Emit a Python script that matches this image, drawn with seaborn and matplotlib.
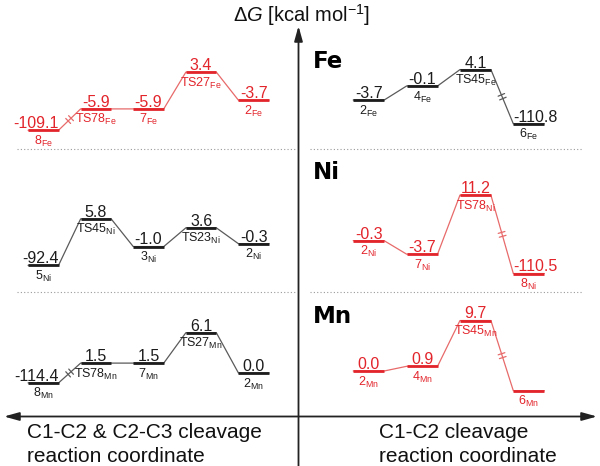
import numpy as np
import pandas as pd
import matplotlib.pyplot as plt
import seaborn as sns

# Free energies (kcal/mol), listed in reaction order.
# Left column: C1-C2 & C2-C3 cleavage, right column: C1-C2 cleavage.
fe_left_names = ['2', 'TS27', '7', 'TS78', '8']
fe_left_dG = [-3.7, 3.4, -5.9, -5.9, -109.1]
ni_left_names = ['2', 'TS23', '3', 'TS45', '5']
ni_left_dG = [-0.3, 3.6, -1.0, 5.8, -92.4]
mn_left_names = ['2', 'TS27', '7', 'TS78', '8']
mn_left_dG = [0.0, 6.1, 1.5, 1.5, -114.4]

fe_right_names = ['2', '4', 'TS45', '6']
fe_right_dG = [-3.7, -0.1, 4.1, -110.8]
ni_right_names = ['2', '7', 'TS78', '8']
ni_right_dG = [-0.3, -3.7, 11.2, -110.5]
mn_right_names = ['2', '4', 'TS45', '6']
mn_right_dG = [0.0, 0.9, 9.7, np.nan]   # no value printed for 6_Mn

RED, RED_LINK = '#e2242b', '#e86a6a'
BLACK, GREY_LINK = '#1c1c1c', '#5a5a5a'

sns.set_theme(style='white')
plt.rcParams['font.family'] = ['Liberation Sans', 'DejaVu Sans']
plt.rcParams['mathtext.fontset'] = 'custom'
plt.rcParams['mathtext.rm'] = 'Liberation Sans'
plt.rcParams['mathtext.it'] = 'Liberation Sans:italic'
plt.rcParams['mathtext.default'] = 'regular'

W, H = 600, 466
fig = plt.figure(figsize=(W / 100, H / 100), dpi=100)


def px_rect(x0, x1, y0, y1):
    return [x0 / W, 1 - y1 / H, (x1 - x0) / W, (y1 - y0) / H]


# overlay in pixel units for the frame arrows, separators and captions
ov = fig.add_axes([0, 0, 1, 1])
ov.set_xlim(0, W)
ov.set_ylim(H, 0)
ov.axis('off')

HALF = 0.29   # half width of an energy level (in step units)
SPAN = 25     # kcal/mol above and below zero held by each panel box


def draw_panel(names, dG, metal, color, link, side, zero_px, scale, brk):
    n = len(names)
    e = np.array(dG, dtype=float)
    broken = np.isnan(e) | (e < -50)
    shown = np.where(broken, brk, e)

    if side == 'left':
        ax = fig.add_axes(px_rect(17, 280, zero_px - SPAN * scale, zero_px + SPAN * scale))
        ax.set_xlim(n - 0.5, -0.5)
    else:
        ax = fig.add_axes(px_rect(342, 555.5, zero_px - SPAN * scale, zero_px + SPAN * scale))
        ax.set_xlim(-0.5, n - 0.5)
    ax.set_ylim(-SPAN, SPAN)
    ax.axis('off')

    idx = np.arange(n)
    path = pd.DataFrame({'x': np.ravel(np.column_stack([idx - HALF, idx + HALF])),
                         'y': np.repeat(shown, 2)})
    sns.lineplot(data=path, x='x', y='y', sort=False, estimator=None,
                 color=link, lw=0.9, ax=ax)
    ax.hlines(shown, idx - HALF, idx + HALF, color=color, lw=2.0)

    for i in range(n):
        ax.annotate(f'{names[i]}$_{{{metal}}}$', (i, shown[i]), xytext=(0, -2.5),
                    textcoords='offset points', ha='center', va='top',
                    fontsize=9, color=color)
        if np.isnan(e[i]):
            continue
        if broken[i] and i == n - 1:
            xa, ha = i - HALF, ('right' if side == 'left' else 'left')
        else:
            xa, ha = i, 'center'
        ax.annotate(f'{e[i]:.1f}', (xa, shown[i]), xytext=(0, 1.5),
                    textcoords='offset points', ha=ha, va='baseline',
                    fontsize=11.5, color=color)

    # axis-break marks on the step into a very low-lying product
    for i in range(n - 1):
        if not (np.isnan(e[i + 1]) or e[i + 1] < -100):
            continue
        p0, p1 = ax.transData.transform([(i + HALF, shown[i]),
                                         (i + 1 - HALF, shown[i + 1])])
        mid = (p0 + p1) / 2
        d = (p1 - p0) / np.hypot(*(p1 - p0))
        nv = np.array([-d[1], d[0]])
        for k in (-1, 1):
            c = mid + k * 2.0 * d
            seg = ax.transData.inverted().transform([c - 3.5 * nv, c + 3.5 * nv])
            ax.plot(seg[:, 0], seg[:, 1], color=link, lw=0.9)
    return ax


draw_panel(fe_left_names, fe_left_dG, 'Fe', RED, RED_LINK, 'left', 85.6, 3.95, -11.3)
draw_panel(ni_left_names, ni_left_dG, 'Ni', BLACK, GREY_LINK, 'left', 242.5, 4.07, -5.6)
draw_panel(mn_left_names, mn_left_dG, 'Mn', BLACK, GREY_LINK, 'left', 373, 6.6, -1.5)
draw_panel(fe_right_names, fe_right_dG, 'Fe', BLACK, GREY_LINK, 'right', 85.6, 3.9, -9.8)
draw_panel(ni_right_names, ni_right_dG, 'Ni', RED, RED_LINK, 'right', 239.5, 3.96, -8.6)
draw_panel(mn_right_names, mn_right_dG, 'Mn', RED, RED_LINK, 'right', 371, 5.2, -3.8)

# frame: energy axis and the two reaction-coordinate directions
ov.annotate('', xy=(298.5, 26), xytext=(298.5, H + 2),
            arrowprops=dict(arrowstyle='-|>,head_length=0.9,head_width=0.25',
                            color='#222222', lw=1.3, shrinkA=0, shrinkB=0,
                            mutation_scale=10))
ov.annotate('', xy=(597, 416.5), xytext=(4, 416.5),
            arrowprops=dict(arrowstyle='<|-|>,head_length=0.9,head_width=0.25',
                            color='#222222', lw=1.3, shrinkA=0, shrinkB=0,
                            mutation_scale=10))

for y in (149.3, 291.7):
    ov.plot([17, 295], [y, y], ls=(0, (1, 2)), color='#9a9a9a', lw=0.8)
    ov.plot([310, 582], [y, y], ls=(0, (1, 2)), color='#9a9a9a', lw=0.8)

ov.text(233, 21.7, 'Δ$\\mathit{G}$ [kcal mol$^{-1}$]', fontsize=14.5,
        ha='left', va='baseline', color='#111111')

for metal, yb in zip(['Fe', 'Ni', 'Mn'], [68.3, 179.3, 323.3]):
    ov.text(312.5, yb, metal, family='DejaVu Sans', fontweight='bold',
            fontsize=16.5, ha='left', va='baseline', color='black')

ov.text(27, 438, 'C1-C2 & C2-C3 cleavage', fontsize=15, ha='left', va='baseline', color='#111111')
ov.text(27, 461.5, 'reaction coordinate', fontsize=15, ha='left', va='baseline', color='#111111')
ov.text(379, 438.5, 'C1-C2 cleavage', fontsize=15, ha='left', va='baseline', color='#111111')
ov.text(379, 461.5, 'reaction coordinate', fontsize=15, ha='left', va='baseline', color='#111111')

fig.savefig('out.png', dpi=100)
